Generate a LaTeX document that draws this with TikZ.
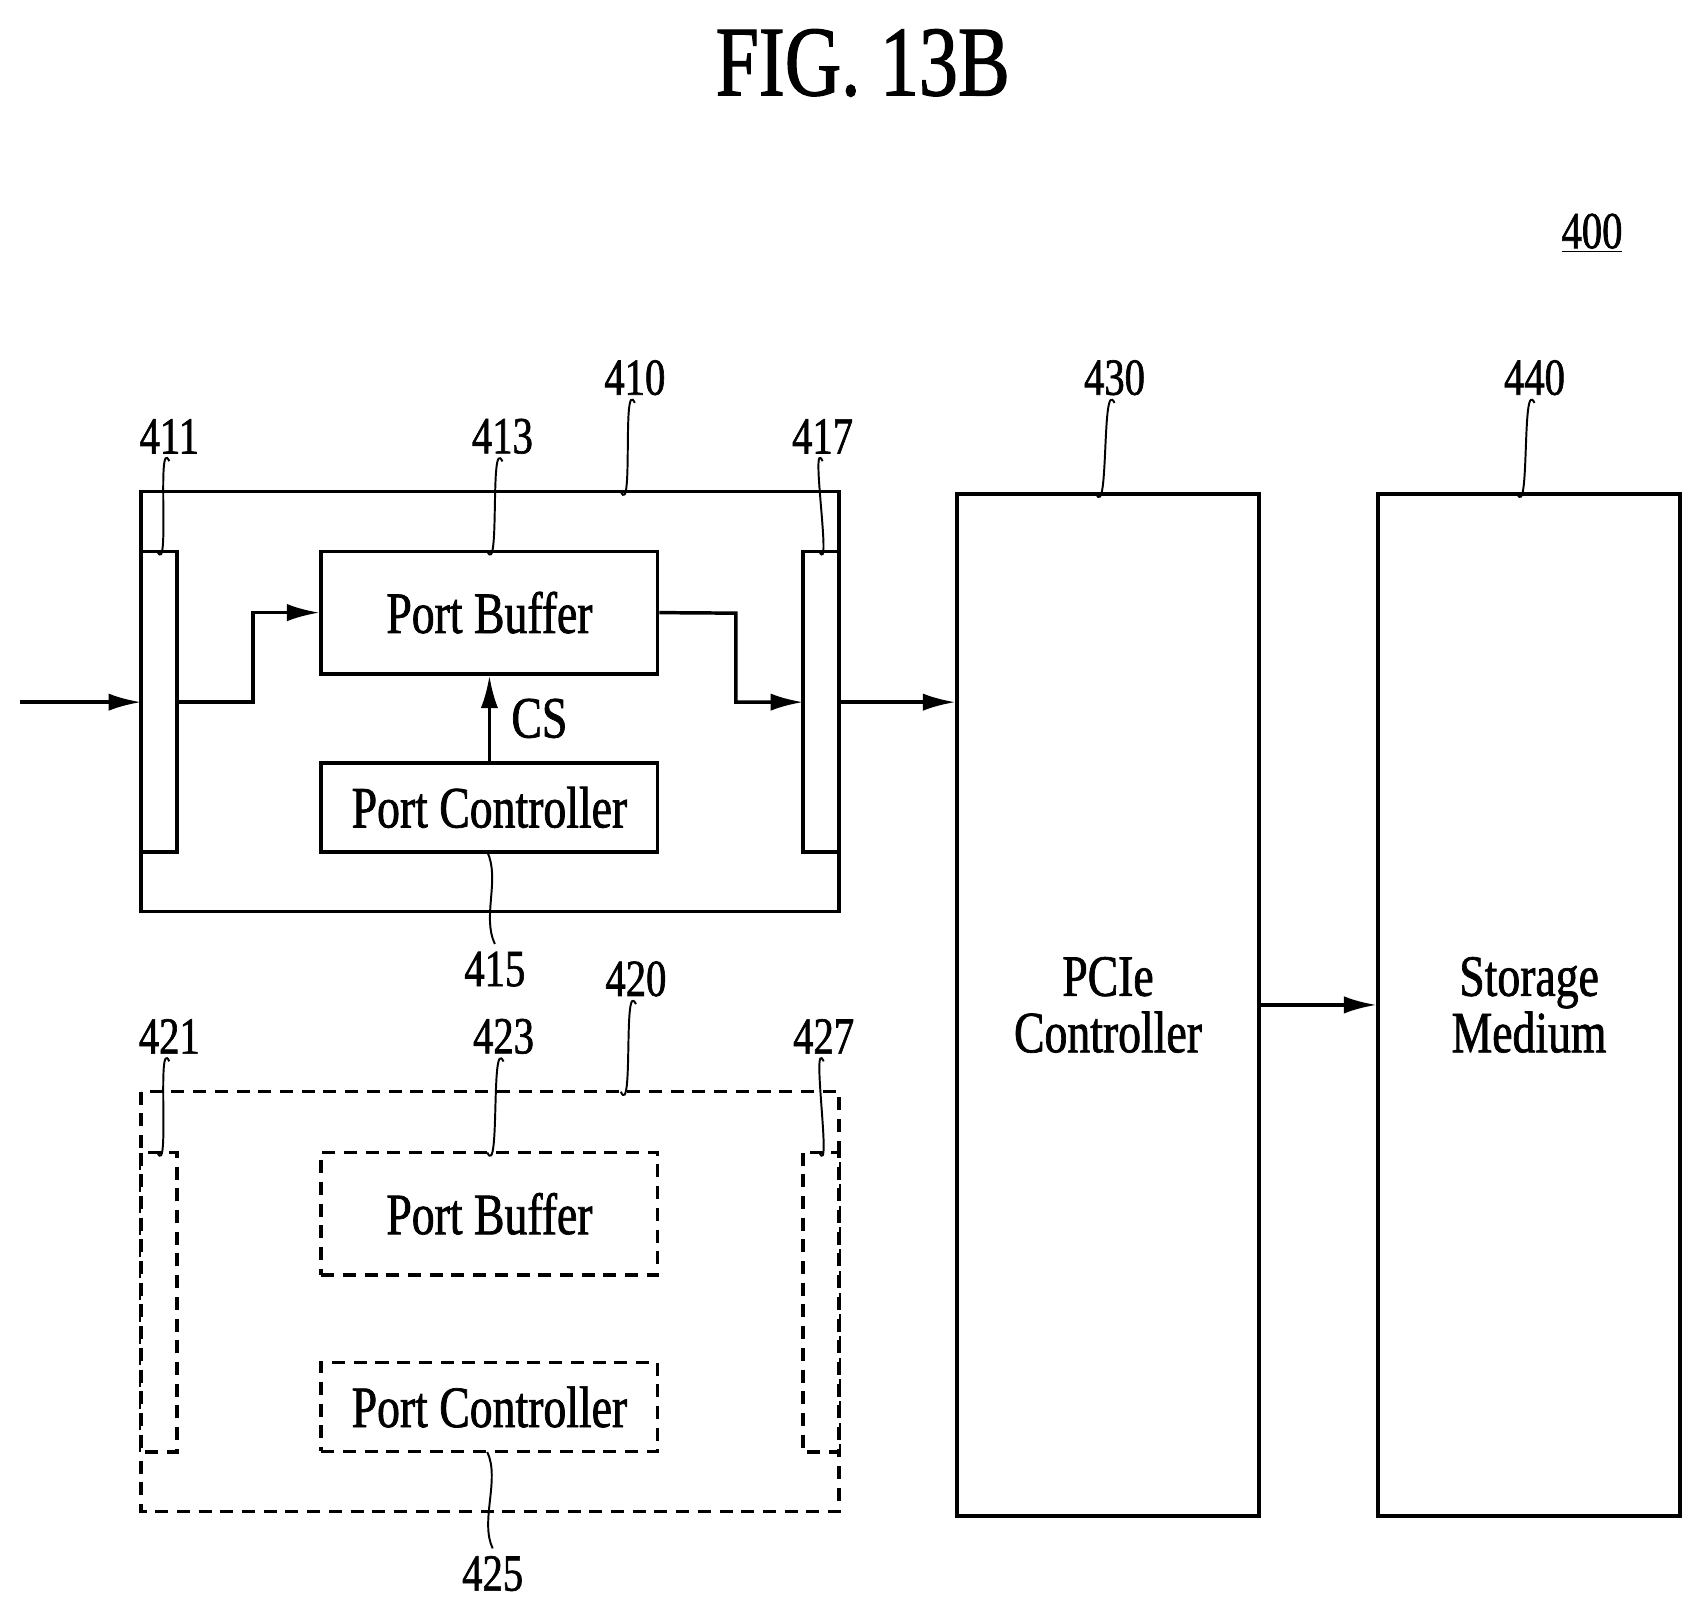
\documentclass[tikz,border=0pt]{standalone}
\usepackage{fontspec}
\setmainfont[FakeStretch=0.78,FakeBold=1.2]{Liberation Serif}
\usetikzlibrary{arrows.meta}
\tikzset{
  blk/.style={draw,line width=1.6pt,inner sep=0pt},
  dblk/.style={blk,dash pattern=on 6pt off 4pt},
  txt/.style={font=\fontsize{27}{30}\selectfont},
  ref/.style={font=\fontsize{24}{26}\selectfont},
  sig/.style={line width=1.6pt,-{Latex[length=15pt,width=8pt]}},
  lead/.style={line width=0.9pt}
}
\newcommand{\leadline}[2]{\draw[lead] (#1) .. controls +(-12,-25) and +(12,25) .. (#2);}
\begin{document}
\begin{tikzpicture}[x=0.5pt,y=-0.5pt]
\useasboundingbox (0,0) rectangle (1561,1480);
\node[font=\fontsize{46}{50}\selectfont] (title) at (795,58) {FIG. 13B};
\node[ref] (r400) at (1467,215) {\underline{400}};
% upper port 410
\draw[blk] (130,453) rectangle (773,840);
\draw[blk,fill=white] (130,508) rectangle (163,785);
\draw[blk,fill=white] (740,508) rectangle (773,785);
\node[blk,minimum width=155pt,minimum height=56.5pt,txt] (pb1) at (451,564.5) {Port Buffer};
\node[blk,minimum width=155pt,minimum height=41pt,txt] (pc1) at (451,744) {Port Controller};
\coordinate (in) at (18,647);
\coordinate (p411) at (130,647);
\coordinate (p411r) at (163,647);
\coordinate (p417) at (740,647);
\coordinate (p417r) at (773,647);
\draw[sig] (in) -- (p411);
\draw[sig] (p411r) -- (233,647) |- (pb1.west);
\draw[sig] (pb1.east) -- (678,565) |- (p417);
\draw[sig] (pc1.north) -- node[right,txt,xshift=6pt] {CS} (pb1.south);
% lower port 420
\draw[dblk] (130,1006) rectangle (773,1393);
\draw[dblk,fill=white] (130,1062) rectangle (163,1338);
\draw[dblk,fill=white] (740,1062) rectangle (773,1338);
\node[dblk,minimum width=155pt,minimum height=56.5pt,txt] (pb2) at (451,1118.5) {Port Buffer};
\node[dblk,minimum width=155pt,minimum height=41pt,txt] (pc2) at (451,1296.5) {Port Controller};
% controller and storage
\node[blk,minimum width=139pt,minimum height=471pt,txt,align=center] (pcie) at (1021,926) {PCIe\\[-4pt]Controller};
\node[blk,minimum width=139pt,minimum height=471pt,txt,align=center] (stor) at (1409,926) {Storage\\[-4pt]Medium};
\draw[sig] (p417r) -- (pcie.west |- p417r);
\draw[sig] (pcie.east) -- (stor.west);
% reference numerals
\node[ref] (r410) at (585,348) {410};
\node[ref] (r411) at (156,402) {411};
\node[ref] (r413) at (463,402) {413};
\node[ref] (r417) at (758,402) {417};
\node[ref] (r430) at (1027,348) {430};
\node[ref] (r440) at (1414,348) {440};
\node[ref] (r415) at (456,893) {415};
\node[ref] (r420) at (586,902) {420};
\node[ref] (r421) at (156,955) {421};
\node[ref] (r423) at (464,955) {423};
\node[ref] (r427) at (759,955) {427};
\node[ref] (r425) at (454,1450) {425};
\leadline{r410.south}{572,453}
\leadline{r411.south}{145,508}
\leadline{r413.south}{449,508}
\leadline{r417.south}{755,508}
\leadline{r430.south}{1010,455}
\leadline{r440.south}{1398,455}
\leadline{r415.north}{449,785}
\leadline{r420.south}{572,1006}
\leadline{r421.south}{145,1062}
\leadline{r423.south}{449,1062}
\leadline{r427.south}{755,1062}
\leadline{r425.north}{449,1338}
\end{tikzpicture}
\end{document}
